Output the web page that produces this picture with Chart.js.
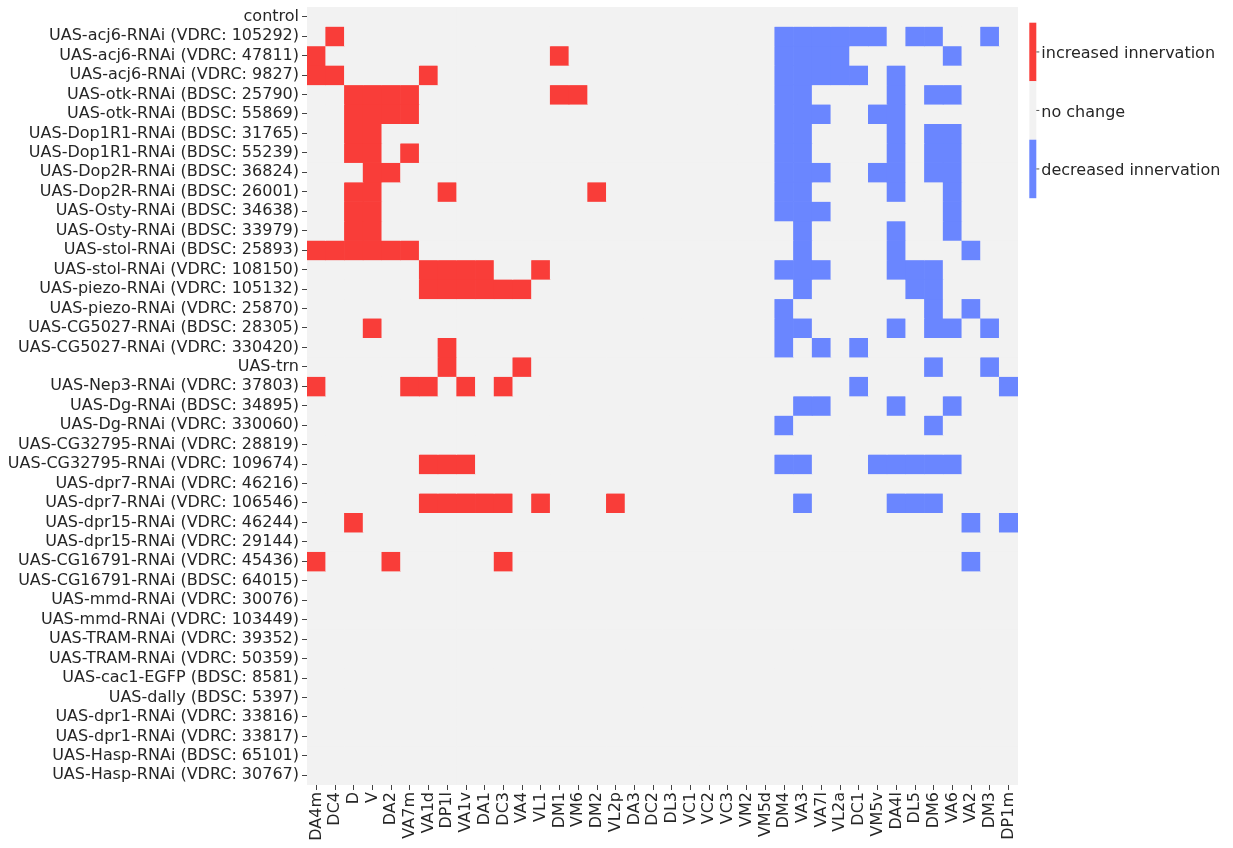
<!DOCTYPE html>
<html>
<head>
<meta charset="utf-8">
<title>Innervation heatmap</title>
<script src="https://cdn.jsdelivr.net/npm/chart.js@4.4.1/dist/chart.umd.min.js"></script>
<style>
    html, body { margin: 0; padding: 0; background: #fff; }
    canvas { display: block; }
</style>
</head>
<body>
<canvas id="heatmap" width="1233" height="848"></canvas>
<script>
const glomeruli = ["DA4m", "DC4", "D", "V", "DA2", "VA7m", "VA1d", "DP1l", "VA1v", "DA1", "DC3", "VA4",
    "VL1", "DM1", "VM6", "DM2", "VL2p", "DA3", "DC2", "DL3", "VC1", "VC2", "VC3", "VM2", "VM5d",
    "DM4", "VA3", "VA7l", "VL2a", "DC1", "VM5v", "DA4l", "DL5", "DM6", "VA6", "VA2", "DM3", "DP1m"];

const genotypes = [
    "control",
    "UAS-acj6-RNAi (VDRC: 105292)",
    "UAS-acj6-RNAi (VDRC: 47811)",
    "UAS-acj6-RNAi (VDRC: 9827)",
    "UAS-otk-RNAi (BDSC: 25790)",
    "UAS-otk-RNAi (BDSC: 55869)",
    "UAS-Dop1R1-RNAi (BDSC: 31765)",
    "UAS-Dop1R1-RNAi (BDSC: 55239)",
    "UAS-Dop2R-RNAi (BDSC: 36824)",
    "UAS-Dop2R-RNAi (BDSC: 26001)",
    "UAS-Osty-RNAi (BDSC: 34638)",
    "UAS-Osty-RNAi (BDSC: 33979)",
    "UAS-stol-RNAi (BDSC: 25893)",
    "UAS-stol-RNAi (VDRC: 108150)",
    "UAS-piezo-RNAi (VDRC: 105132)",
    "UAS-piezo-RNAi (VDRC: 25870)",
    "UAS-CG5027-RNAi (BDSC: 28305)",
    "UAS-CG5027-RNAi (VDRC: 330420)",
    "UAS-trn",
    "UAS-Nep3-RNAi (VDRC: 37803)",
    "UAS-Dg-RNAi (BDSC: 34895)",
    "UAS-Dg-RNAi (VDRC: 330060)",
    "UAS-CG32795-RNAi (VDRC: 28819)",
    "UAS-CG32795-RNAi (VDRC: 109674)",
    "UAS-dpr7-RNAi (VDRC: 46216)",
    "UAS-dpr7-RNAi (VDRC: 106546)",
    "UAS-dpr15-RNAi (VDRC: 46244)",
    "UAS-dpr15-RNAi (VDRC: 29144)",
    "UAS-CG16791-RNAi (VDRC: 45436)",
    "UAS-CG16791-RNAi (BDSC: 64015)",
    "UAS-mmd-RNAi (VDRC: 30076)",
    "UAS-mmd-RNAi (VDRC: 103449)",
    "UAS-TRAM-RNAi (VDRC: 39352)",
    "UAS-TRAM-RNAi (VDRC: 50359)",
    "UAS-cac1-EGFP (BDSC: 8581)",
    "UAS-dally (BDSC: 5397)",
    "UAS-dpr1-RNAi (VDRC: 33816)",
    "UAS-dpr1-RNAi (VDRC: 33817)",
    "UAS-Hasp-RNAi (BDSC: 65101)",
    "UAS-Hasp-RNAi (VDRC: 30767)"
];

// glomeruli with increased innervation, one list per genotype (same order)
const increased = [
    [],
    ["DC4"],
    ["DA4m", "DM1"],
    ["DA4m", "DC4", "VA1d"],
    ["D", "V", "DA2", "VA7m", "DM1", "VM6"],
    ["D", "V", "DA2", "VA7m"],
    ["D", "V"],
    ["D", "V", "VA7m"],
    ["V", "DA2"],
    ["D", "V", "DP1l", "DM2"],
    ["D", "V"],
    ["D", "V"],
    ["DA4m", "DC4", "D", "V", "DA2", "VA7m"],
    ["VA1d", "DP1l", "VA1v", "DA1", "VL1"],
    ["VA1d", "DP1l", "VA1v", "DA1", "DC3", "VA4"],
    [],
    ["V"],
    ["DP1l"],
    ["DP1l", "VA4"],
    ["DA4m", "VA7m", "VA1d", "VA1v", "DC3"],
    [],
    [],
    [],
    ["VA1d", "DP1l", "VA1v"],
    [],
    ["VA1d", "DP1l", "VA1v", "DA1", "DC3", "VL1", "VL2p"],
    ["D"],
    [],
    ["DA4m", "DA2", "DC3"],
    [], [], [], [], [], [], [], [], [], [], []
];

// glomeruli with decreased innervation, one list per genotype
const decreased = [
    [],
    ["DM4", "VA3", "VA7l", "VL2a", "DC1", "VM5v", "DL5", "DM6", "DM3"],
    ["DM4", "VA3", "VA7l", "VL2a", "VA6"],
    ["DM4", "VA3", "VA7l", "VL2a", "DC1", "DA4l"],
    ["DM4", "VA3", "DA4l", "DM6", "VA6"],
    ["DM4", "VA3", "VA7l", "VM5v", "DA4l"],
    ["DM4", "VA3", "DA4l", "DM6", "VA6"],
    ["DM4", "VA3", "DA4l", "DM6", "VA6"],
    ["DM4", "VA3", "VA7l", "VM5v", "DA4l", "DM6", "VA6"],
    ["DM4", "VA3", "DA4l", "VA6"],
    ["DM4", "VA3", "VA7l", "VA6"],
    ["VA3", "DA4l", "VA6"],
    ["VA3", "DA4l", "VA2"],
    ["DM4", "VA3", "VA7l", "DA4l", "DL5", "DM6"],
    ["VA3", "DL5", "DM6"],
    ["DM4", "DM6", "VA2"],
    ["DM4", "VA3", "DA4l", "DM6", "VA6", "DM3"],
    ["DM4", "VA7l", "DC1"],
    ["DM6", "DM3"],
    ["DC1", "DP1m"],
    ["VA3", "VA7l", "DA4l", "VA6"],
    ["DM4", "DM6"],
    [],
    ["DM4", "VA3", "VM5v", "DA4l", "DL5", "DM6", "VA6"],
    [],
    ["VA3", "DA4l", "DL5", "DM6"],
    ["VA2", "DP1m"],
    [],
    ["VA2"],
    [], [], [], [], [], [], [], [], [], [], []
];

const legendLabels = ["increased innervation", "no change", "decreased innervation"];

const RED = "#f93d39";
const GRAY = "#f2f2f2";
const BLUE = "#6a86ff";
const TEXT = "#262626";
const FONT = { family: "'DejaVu Sans', sans-serif", size: 16 };

function cellColor(r, g) {
    if (increased[r].includes(g)) return RED;
    if (decreased[r].includes(g)) return BLUE;
    return GRAY;
}

// one dataset per genotype row, each cell is a floating bar [r, r+1]
const datasets = genotypes.map((name, r) => ({
    label: name,
    data: glomeruli.map(() => [r, r + 1]),
    backgroundColor: glomeruli.map(g => cellColor(r, g)),
    borderWidth: 0,
    grouped: false,
    barPercentage: 1,
    categoryPercentage: 1
}));

const areaBackground = {
    id: "areaBackground",
    beforeDatasetsDraw(chart) {
        const a = chart.chartArea;
        chart.ctx.save();
        chart.ctx.fillStyle = GRAY;
        chart.ctx.fillRect(a.left, a.top, a.right - a.left, a.bottom - a.top);
        chart.ctx.restore();
    }
};

// discrete colorbar on the right
const colorbar = {
    id: "colorbar",
    afterDraw(chart) {
        const ctx = chart.ctx;
        const x = chart.chartArea.right + 11.3;
        const top = 22.7;
        const segH = 58.5;
        const colors = [RED, GRAY, BLUE];
        ctx.save();
        colors.forEach((c, i) => {
            ctx.fillStyle = c;
            ctx.fillRect(x, top + i * segH, 7, segH);
        });
        ctx.strokeStyle = "#555";
        ctx.lineWidth = 1;
        ctx.fillStyle = TEXT;
        ctx.font = "16px 'DejaVu Sans', sans-serif";
        ctx.textBaseline = "middle";
        legendLabels.forEach((t, i) => {
            const y = top + (i + 0.5) * segH;
            ctx.beginPath();
            ctx.moveTo(x + 7, y);
            ctx.lineTo(x + 10, y);
            ctx.stroke();
            ctx.fillText(t, x + 12, y + 2);
        });
        ctx.restore();
    }
};

new Chart(document.getElementById("heatmap"), {
    type: "bar",
    data: { labels: glomeruli, datasets: datasets },
    plugins: [areaBackground, colorbar],
    options: {
        responsive: false,
        animation: false,
        layout: { padding: { top: 7, right: 215, left: 0, bottom: 0 } },
        plugins: { legend: { display: false }, tooltip: { enabled: false } },
        scales: {
            x: {
                type: "category",
                offset: true,
                border: { display: false },
                grid: { drawOnChartArea: false, drawTicks: true, tickLength: 5, offset: false, color: "#444" },
                ticks: { autoSkip: false, maxRotation: 90, minRotation: 90, font: FONT, color: TEXT, padding: 2 },
                afterFit: s => { s.height = 63; s.paddingLeft = 0; s.paddingRight = 0; }
            },
            y: {
                type: "linear",
                min: 0,
                max: genotypes.length,
                reverse: true,
                border: { display: false },
                grid: { drawOnChartArea: false, drawTicks: true, tickLength: 5, color: "#444" },
                afterBuildTicks: axis => {
                    axis.ticks = genotypes.map((_, i) => ({ value: i + 0.5 }));
                },
                ticks: {
                    autoSkip: false,
                    font: FONT,
                    color: TEXT,
                    padding: 3,
                    callback: v => genotypes[Math.floor(v)]
                },
                afterFit: s => { s.width = 307; s.paddingTop = 0; s.paddingBottom = 0; }
            }
        }
    }
});
</script>
</body>
</html>
